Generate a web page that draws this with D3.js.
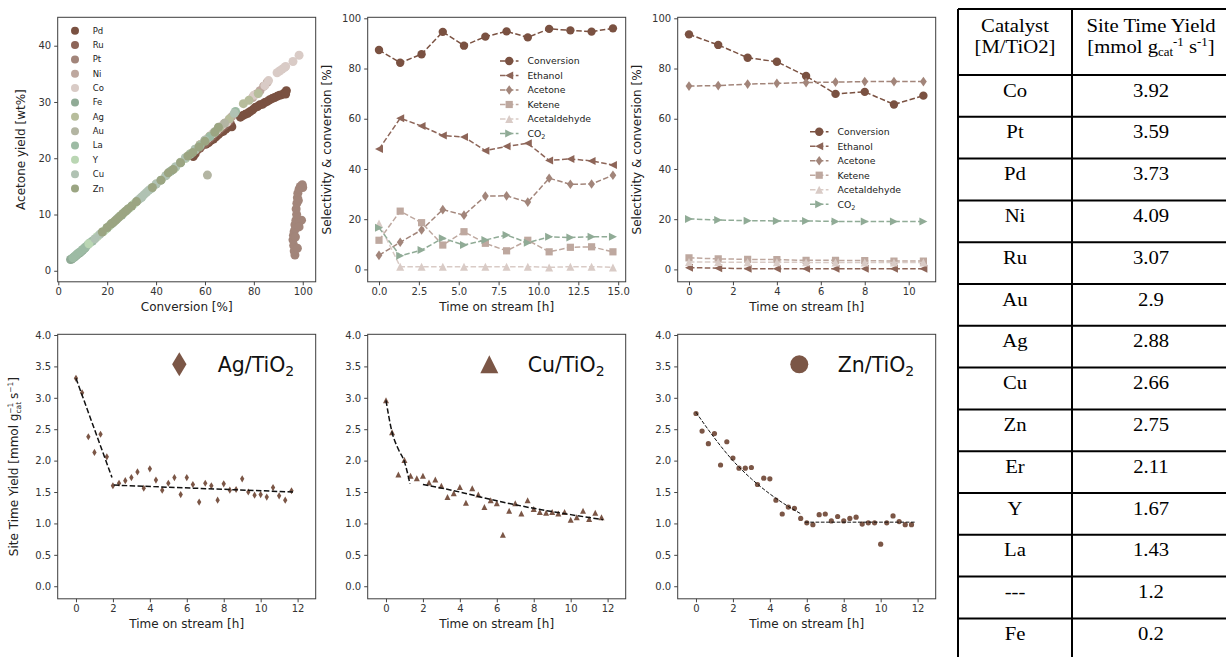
<!DOCTYPE html>
<html>
<head>
<meta charset="utf-8">
<script src="https://cdn.jsdelivr.net/npm/d3@7"></script>
<style>
  body { margin: 0; background: #fff; }
  svg { display: block; font-family: "DejaVu Sans", sans-serif; }
  .axis text { font-size: 10px; fill: #333; font-family: "DejaVu Sans", sans-serif; }
  .axis line { stroke: #444; }
  .axis path { display: none; }
  .axis-title { font-size: 12px; fill: #222; }
  .legend-text { fill: #222; }
  .cell { font-family: "Liberation Serif", "Times New Roman", serif; font-size: 18.5px; fill: #000; }
</style>
</head>
<body>
<svg id="chart" width="1226" height="657"></svg>
<script>
// ---- metals: legend order, colours ----
const metalNames = ["Pd", "Ru", "Pt", "Ni", "Co", "Fe", "Ag", "Au", "La", "Y", "Cu", "Zn"];
const metalColors = ["#7a5141", "#8d6558", "#a2857a", "#bea89f", "#d9cbc6", "#90ab96",
                     "#b7bd9c", "#b3b5a2", "#9dbba4", "#bad6b3", "#b0c2b3", "#9ba582"];

// ---- acetone yield vs conversion, [conversion %, yield wt%] ----
const pdYield = [[55.2,20.3],[56,20.8],[60.5,22.5],[61.5,22.8],[62.5,23.2],[63.5,23.4],[64.5,23.8],[65.5,24.2],
  [66.5,24.6],[67.5,24.8],[68.5,25.2],[69.5,25.5],[70.5,26],[71,25.6],[74.5,27.3],[75.5,27.6],[76.5,27.8],
  [77.5,28],[78.5,28.3],[79.5,28.6],[80.5,29],[81.5,29.2],[82.5,29.5],[83.5,29.6],[84.5,29.9],[85.5,30.1],
  [86.5,30.4],[87.5,30.6],[88.5,30.8],[89.5,31],[90.5,31.2],[91.5,31.3],[92.5,31.6],[93.3,32],[93,31.4]];
const ruYield = [[57,21.5],[58,21.8],[59,22.3],[60,22.6],[61,23.1],[62,23.5],[63,23.9],[64,24.4],[65,24.7],
  [66,25.1],[67,25.5],[68,25.8],[69,26.3],[70,26.6]];
const ptYield = [[96.8,2.8],[96.5,3.5],[96.3,4.5],[96,5.5],[96.2,6.3],[96.5,7],[97,7.5],[96.8,8.2],[97.2,9],
  [98.8,8.8],[99.5,9],[98.5,7.8],[97.5,10],[97.3,11],[97.6,12],[97.8,13],[98,13.8],[98.5,14.5],[99,15],
  [99.8,15.3],[100,14.8],[98.2,12.5],[97,6],[97.8,4]];
const niYield = [[58,22.4],[60,23.2],[62,23.9],[64,24.6],[66,25.4],[68,26.2],[70,26.9],[71,27.4],[79.5,30.8],
  [81,31.4],[82.5,32],[84,32.8],[85.5,33.5]];
const coYield = [[61,23.5],[63,24.3],[65,25],[67,25.8],[69,26.4],[80,31.2],[84.5,32.9],[86,33.8],[89.5,35.2],
  [90.5,35.5],[91.5,35.8],[92.5,36.1],[93,36.3],[96,37.2],[98.5,38.3]];
const feYield = [[5,2],[5.5,2.1],[6,2.3],[6.5,2.4],[7,2.6],[7.5,2.8],[8,3],[8.5,3.1],[9,3.3],[9.5,3.5],
  [10,3.7],[10.5,3.9],[11,4.1]];
const agYield = [[44,16.9],[50,19.3],[54,20.8],[58,22.4],[62,23.9],[66,25.4],[70,27],[75.7,29.7],[78,30.3],[81.8,31.5]];
const auYield = [[40,15.4],[46,17.7],[52,20],[56,21.6],[60,23.1],[61,17],[64,24.7],[68,26.2]];
const laYield = [[6,2.3],[7,2.7],[8,3.1],[9,3.4],[10,3.8],[11,4.2],[12,4.6],[13,5],[14,5.3],[20,7.6],[22,8.4],
  [26,9.9],[30,11.5],[34,13],[38,14.6],[42,16.1],[46,17.7],[50,19.2],[54,20.7],[58,22.2],[62,23.8],[72.5,28.3]];
const yYield = [[12.5,4.8],[16,6.1],[18.5,7],[19.5,7.4],[21,8],[23,8.8],[25,9.6],[27,10.4],[29,11.1],[31,11.9],
  [48,18.4],[52,20],[56,21.5]];
const cuYield = [[15,5.7],[17,6.5],[24,9.2],[28,10.7],[32,12.3],[33,12.7],[34,13.1],[35,13.5],[36,13.9],[37,14.3],
  [40,15.4],[44,16.9],[48,18.5],[52,20.1],[56,21.6],[60,23.2],[64,24.6],[72,28]];
const znYield = [[18,6.9],[20,7.7],[21.5,8.3],[22.5,8.6],[23.5,9],[24.5,9.4],[25.5,9.8],[26.5,10.2],[27.5,10.6],
  [28.5,11],[30,11.5],[32,12.3],[38.5,14.8],[42,16.1],[45,17.4],[47,18],[50,19.2],[53,20.4],[55,21],[57.5,22],
  [60,23],[64,24.6],[65.5,25.5]];
const yieldSeries = [pdYield, ruYield, ptYield, niYield, coYield, feYield, agYield, auYield, laYield, yYield, cuYield, znYield];

// ---- selectivity & conversion over time ----
const productNames = ["Conversion", "Ethanol", "Acetone", "Ketene", "Acetaldehyde", "CO2"];
const productColors = ["#7a5141", "#8d6558", "#a2857a", "#bea89f", "#d9cbc6", "#90ab96"];
const productShapes = ["circle", "triLeft", "diamond", "square", "triUp", "triRight"];

const timeA = [0, 1.33, 2.67, 4, 5.33, 6.67, 8, 9.33, 10.67, 12, 13.33, 14.67];
const convA = [87.4, 82.3, 85.7, 94.6, 89.1, 92.7, 94.8, 92.4, 95.8, 95.2, 94.7, 96.0];
const ethanolA = [47.9, 60.2, 57.1, 53.3, 52.7, 47.3, 49.0, 50.2, 43.4, 44.0, 43.2, 41.6];
const acetoneA = [5.6, 10.8, 15.7, 23.8, 21.6, 29.2, 29.3, 26.8, 36.3, 33.9, 34.0, 37.5];
const keteneA = [11.6, 23.2, 18.6, 9.7, 15.0, 10.4, 7.4, 11.6, 7.0, 8.8, 9.0, 7.0];
const acetaldehydeA = [18.3, 1.1, 1.1, 1.1, 1.1, 1.1, 1.1, 1.1, 0.8, 1.1, 1.1, 0.8];
const co2A = [16.6, 5.4, 7.7, 12.4, 9.7, 11.7, 13.7, 10.6, 13.0, 12.7, 13.0, 13.0];

const timeB = [0, 1.33, 2.67, 4, 5.33, 6.67, 8, 9.33, 10.67];
const convB = [93.6, 89.4, 84.3, 82.7, 77.0, 69.9, 70.7, 65.7, 69.2];
const ethanolB = [0.7, 0.5, 0.3, 0.3, 0.3, 0.3, 0.3, 0.3, 0.3];
const acetoneB = [73.0, 73.2, 73.8, 74.1, 74.4, 74.6, 74.8, 74.8, 74.8];
const keteneB = [4.6, 4.2, 4.0, 3.9, 3.6, 3.6, 3.5, 3.3, 3.3];
const acetaldehydeB = [2.9, 2.9, 2.8, 2.8, 2.8, 2.7, 2.7, 2.7, 2.7];
const co2B = [20.1, 19.7, 19.4, 19.3, 19.3, 19.1, 19.1, 19.1, 19.1];

// ---- site time yield over time (Ag, Cu, Zn) ----
const timeSty = [0, 0.33, 0.67, 1, 1.33, 1.67, 2, 2.33, 2.67, 3, 3.33, 3.67, 4, 4.33, 4.67, 5, 5.33, 5.67,
  6, 6.33, 6.67, 7, 7.33, 7.67, 8, 8.33, 8.67, 9, 9.33, 9.67, 10, 10.33, 10.67, 11, 11.33, 11.67];
const agSty = [3.31, 3.08, 2.38, 2.13, 2.42, 2.06, 1.60, 1.64, 1.68, 1.73, 1.82, 1.56, 1.87, 1.69, 1.53, 1.64,
  1.73, 1.46, 1.73, 1.62, 1.34, 1.64, 1.60, 1.37, 1.63, 1.53, 1.54, 1.71, 1.50, 1.45, 1.46, 1.42, 1.57, 1.44, 1.37, 1.52];
const cuSty = [2.96, 2.45, 1.78, 2.01, 1.76, 1.72, 1.76, 1.65, 1.70, 1.60, 1.42, 1.48, 1.58, 1.33, 1.56, 1.46,
  1.26, 1.37, 1.32, 0.82, 1.20, 1.32, 1.16, 1.37, 1.23, 1.18, 1.17, 1.18, 1.16, 1.18, 1.06, 1.10, 1.20, 1.07, 1.17, 1.10];
const znSty = [2.75, 2.47, 2.27, 2.43, 1.93, 2.30, 2.04, 1.88, 1.88, 1.89, 1.62, 1.72, 1.71, 1.37, 1.15, 1.26,
  1.24, 1.08, 1.01, 0.98, 1.14, 1.15, 1.04, 1.11, 1.04, 1.08, 1.10, 0.99, 1.01, 1.01, 0.67, 1.01, 1.12, 1.03, 0.98, 0.98];

// fitted trend segments, [time, STY]
const agFit = [[[0, 3.31], [1.95, 1.73]], [[2.05, 1.61], [11.8, 1.50]]];
const cuFit = [[[0, 2.96], [0.33, 2.45], [0.67, 2.18], [1, 1.98], [1.3, 1.63]],
               [[2, 1.62], [4, 1.5], [6, 1.36], [8, 1.24], [10, 1.14], [11.75, 1.06]]];
const znFit = [[[0, 2.77], [1, 2.36], [2, 2.0], [3, 1.71], [4, 1.47], [5, 1.27], [5.7, 1.15]],
               [[5.9, 1.02], [11.9, 1.02]]];

// ---- table ----
const tableCatalysts = ["Co", "Pt", "Pd", "Ni", "Ru", "Au", "Ag", "Cu", "Zn", "Er", "Y", "La", "---", "Fe"];
const tableSty = ["3.92", "3.59", "3.73", "4.09", "3.07", "2.9", "2.88", "2.66", "2.75", "2.11", "1.67", "1.43", "1.2", "0.2"];

const svg = d3.select("#chart");

// marker outlines, centred on 0,0
function shapePath(type, s) {
  switch (type) {
    case "circle": return `M${s},0A${s},${s} 0 1,1 ${-s},0A${s},${s} 0 1,1 ${s},0Z`;
    case "square": return `M${-s},${-s}H${s}V${s}H${-s}Z`;
    case "diamond": return `M0,${-s * 1.2}L${s * 0.85},0L0,${s * 1.2}L${-s * 0.85},0Z`;
    case "thin": return `M0,${-s}L${s * 0.6},0L0,${s}L${-s * 0.6},0Z`;
    case "triUp": return `M0,${-s}L${s},${s}L${-s},${s}Z`;
    case "triLeft": return `M${-s},0L${s},${-s}L${s},${s}Z`;
    case "triRight": return `M${s},0L${-s},${-s}L${-s},${s}Z`;
  }
}

// one framed axes box with bottom/left ticks
function makePanel(left, top, xDom, yDom, xTicks, yTicks, xFmt, yFmt) {
  const w = 258, h = 264.5;
  const g = svg.append("g").attr("transform", `translate(${left},${top})`);
  const x = d3.scaleLinear().domain(xDom).range([0, w]);
  const y = d3.scaleLinear().domain(yDom).range([h, 0]);
  g.append("g").attr("class", "axis").attr("transform", `translate(0,${h})`)
    .call(d3.axisBottom(x).tickValues(xTicks).tickFormat(xFmt).tickSize(3.5).tickPadding(3));
  g.append("g").attr("class", "axis")
    .call(d3.axisLeft(y).tickValues(yTicks).tickFormat(yFmt).tickSize(3.5).tickPadding(3));
  const plot = g.append("g");
  g.append("rect").attr("width", w).attr("height", h)
    .attr("fill", "none").attr("stroke", "#3d3d3d").attr("stroke-width", 1);
  return { g, plot, x, y, w, h };
}

function xTitle(p, text, dy) {
  p.g.append("text").attr("class", "axis-title").attr("x", p.w / 2).attr("y", p.h + dy)
    .attr("text-anchor", "middle").text(text);
}
function yTitle(p, text, dx) {
  return p.g.append("text").attr("class", "axis-title")
    .attr("transform", `translate(${dx},${p.h / 2}) rotate(-90)`)
    .attr("text-anchor", "middle").text(text);
}

// ---------- panel 1: acetone yield vs conversion ----------
const p1 = makePanel(57.7, 17.3, [-0.25, 105.3], [-1.96, 45.05],
  [0, 20, 40, 60, 80, 100], [0, 10, 20, 30, 40], d3.format("d"), d3.format("d"));
yieldSeries.forEach((pts, i) => {
  p1.plot.selectAll(null).data(pts).enter().append("circle")
    .attr("cx", d => p1.x(d[0])).attr("cy", d => p1.y(d[1])).attr("r", 4.5)
    .attr("fill", metalColors[i]);
});
xTitle(p1, "Conversion [%]", 29.5);
yTitle(p1, "Acetone yield [wt%]", -33);

const leg1 = p1.g.append("g");
metalNames.forEach((name, i) => {
  const yy = 13.4 + i * 14.35;
  leg1.append("circle").attr("cx", 17.3).attr("cy", yy).attr("r", 4).attr("fill", metalColors[i]);
  leg1.append("text").attr("class", "legend-text").attr("x", 35).attr("y", yy + 3)
    .attr("font-size", 8.5).text(name);
});

// ---------- panels 2 & 3: selectivity & conversion ----------
const shapeSize = { circle: 4.2, triLeft: 4, diamond: 4, square: 3.6, triUp: 4, triRight: 4 };

function drawProducts(p, times, series) {
  series.forEach((vals, i) => {
    const pts = times.map((t, k) => [t, vals[k]]);
    p.plot.append("path").datum(pts)
      .attr("d", d3.line().x(d => p.x(d[0])).y(d => p.y(d[1])))
      .attr("fill", "none").attr("stroke", productColors[i]).attr("stroke-width", 1.5)
      .attr("stroke-dasharray", "5.5,2.4");
    p.plot.selectAll(null).data(pts).enter().append("path")
      .attr("transform", d => `translate(${p.x(d[0])},${p.y(d[1])})`)
      .attr("d", shapePath(productShapes[i], shapeSize[productShapes[i]]))
      .attr("fill", productColors[i]);
  });
}

function productLegend(p, lx, ly) {
  const lg = p.g.append("g").attr("transform", `translate(${lx},${ly})`);
  productNames.forEach((name, i) => {
    const yy = i * 14.5;
    lg.append("line").attr("x1", 0).attr("x2", 18.5).attr("y1", yy).attr("y2", yy)
      .attr("stroke", productColors[i]).attr("stroke-width", 1.5).attr("stroke-dasharray", "5.5,2.4");
    lg.append("path").attr("transform", `translate(9.2,${yy})`)
      .attr("d", shapePath(productShapes[i], shapeSize[productShapes[i]])).attr("fill", productColors[i]);
    const t = lg.append("text").attr("class", "legend-text").attr("x", 27.5).attr("y", yy + 3.4)
      .attr("font-size", 9.3);
    if (name === "CO2") {
      t.append("tspan").text("CO");
      t.append("tspan").attr("font-size", 6.5).attr("dy", 2).text("2");
    } else {
      t.text(name);
    }
  });
}

const p2 = makePanel(367.7, 17.3, [-0.708, 15.47], [-4.94, 100.4],
  [0, 2.5, 5, 7.5, 10, 12.5, 15], [0, 20, 40, 60, 80, 100], d3.format(".1f"), d3.format("d"));
drawProducts(p2, timeA, [convA, ethanolA, acetoneA, keteneA, acetaldehydeA, co2A]);
productLegend(p2, 132.3, 43.7);
xTitle(p2, "Time on stream [h]", 29.5);
yTitle(p2, "Selectivity & conversion [%]", -37);

const p3 = makePanel(677.7, 17.3, [-0.514, 11.23], [-4.94, 100.4],
  [0, 2, 4, 6, 8, 10], [0, 20, 40, 60, 80, 100], d3.format("d"), d3.format("d"));
drawProducts(p3, timeB, [convB, ethanolB, acetoneB, keteneB, acetaldehydeB, co2B]);
productLegend(p3, 132.3, 114.4);
xTitle(p3, "Time on stream [h]", 29.5);
yTitle(p3, "Selectivity & conversion [%]", -37);

// ---------- panels 4-6: site time yield ----------
const styColor = "#7b5646";

function stypanel(left, values, fits, shape, size, legendSize, metal, fitWidth, fitDash) {
  const p = makePanel(left, 334.3, [-0.99, 12.98], [-0.2, 4.011],
    [0, 2, 4, 6, 8, 10, 12], [0, 0.5, 1, 1.5, 2, 2.5, 3, 3.5, 4], d3.format("d"), d3.format(".1f"));
  const pts = timeSty.map((t, k) => [t, values[k]]);
  p.plot.selectAll(null).data(pts).enter().append("path")
    .attr("transform", d => `translate(${p.x(d[0])},${p.y(d[1])})`)
    .attr("d", shapePath(shape, size)).attr("fill", styColor);
  fits.forEach(seg => {
    p.plot.append("path").datum(seg)
      .attr("d", d3.line().curve(d3.curveMonotoneX).x(d => p.x(d[0])).y(d => p.y(d[1])))
      .attr("fill", "none").attr("stroke", "#111").attr("stroke-width", fitWidth)
      .attr("stroke-dasharray", fitDash);
  });
  p.g.append("path").attr("transform", "translate(121.6,30)")
    .attr("d", shapePath(shape, legendSize)).attr("fill", styColor);
  const t = p.g.append("text").attr("x", 160).attr("y", 38).attr("font-size", 20.5).attr("fill", "#111");
  t.append("tspan").text(metal + "/TiO");
  t.append("tspan").attr("font-size", 14).attr("dy", 4).text("2");
  xTitle(p, "Time on stream [h]", 29.5);
  return p;
}

const p4 = stypanel(57.7, agSty, agFit, "thin", 3.6, 12, "Ag", 1.5, "5.5,2.4");
const ylab = p4.g.append("text").attr("class", "axis-title")
  .attr("transform", `translate(-39.5,${p4.h / 2}) rotate(-90)`).attr("text-anchor", "middle");
ylab.append("tspan").text("Site Time Yield [mmol g");
ylab.append("tspan").attr("font-size", 7.5).attr("dy", 3).text("cat");
ylab.append("tspan").attr("font-size", 7.5).attr("dx", -12).attr("dy", -8).text("\u22121");
ylab.append("tspan").attr("dy", 5).text(" s");
ylab.append("tspan").attr("font-size", 7.5).attr("dy", -5).text("\u22121");
ylab.append("tspan").attr("dy", 5).text("]");

stypanel(367.7, cuSty, cuFit, "triUp", 3, 9, "Cu", 1.5, "5.5,2.4");
stypanel(677.7, znSty, znFit, "circle", 2.6, 9, "Zn", 1, "3.7,1.6");

// ---------- table of site time yields ----------
const table = svg.append("g");
const tLeft = 958, tMid = 1072, tRight = 1240, tTop = 9, headBottom = 75, rowH = 41.8;
const col1 = (tLeft + tMid) / 2, col2 = (tMid + tRight) / 2 - 5;

function cell(x, y, parts) {
  const t = table.append("text").attr("class", "cell").attr("text-anchor", "middle")
    .attr("transform", `translate(${x},${y}) scale(1.12,1)`);
  parts.forEach(p => {
    const s = t.append("tspan").text(p.text);
    if (p.size) s.attr("font-size", p.size);
    if (p.dy) s.attr("dy", p.dy);
  });
  return t;
}

cell(col1, 32, [{ text: "Catalyst" }]);
cell(col1, 53, [{ text: "[M/TiO2]" }]);
cell(col2, 32, [{ text: "Site Time Yield" }]);
cell(col2, 53, [{ text: "[mmol g" }, { text: "cat", size: 11.5, dy: 3 }, { text: "-1", size: 11.5, dy: -10 },
  { text: " s", dy: 7 }, { text: "-1", size: 11.5, dy: -7 }, { text: "]", dy: 7 }]);

tableCatalysts.forEach((c, i) => {
  const yb = headBottom + i * rowH + 21.5;
  cell(col1, yb, [{ text: c }]);
  cell(col2, yb, [{ text: tableSty[i] }]);
});

const hLines = [tTop, headBottom].concat(tableCatalysts.slice(1).map((c, i) => headBottom + (i + 1) * rowH));
table.selectAll(null).data(hLines).enter().append("line")
  .attr("x1", tLeft).attr("x2", tRight).attr("y1", d => d).attr("y2", d => d)
  .attr("stroke", "#000").attr("stroke-width", 2);
table.selectAll(null).data([tLeft, tMid]).enter().append("line")
  .attr("x1", d => d).attr("x2", d => d).attr("y1", tTop).attr("y2", 657)
  .attr("stroke", "#000").attr("stroke-width", 2);
</script>
</body>
</html>
